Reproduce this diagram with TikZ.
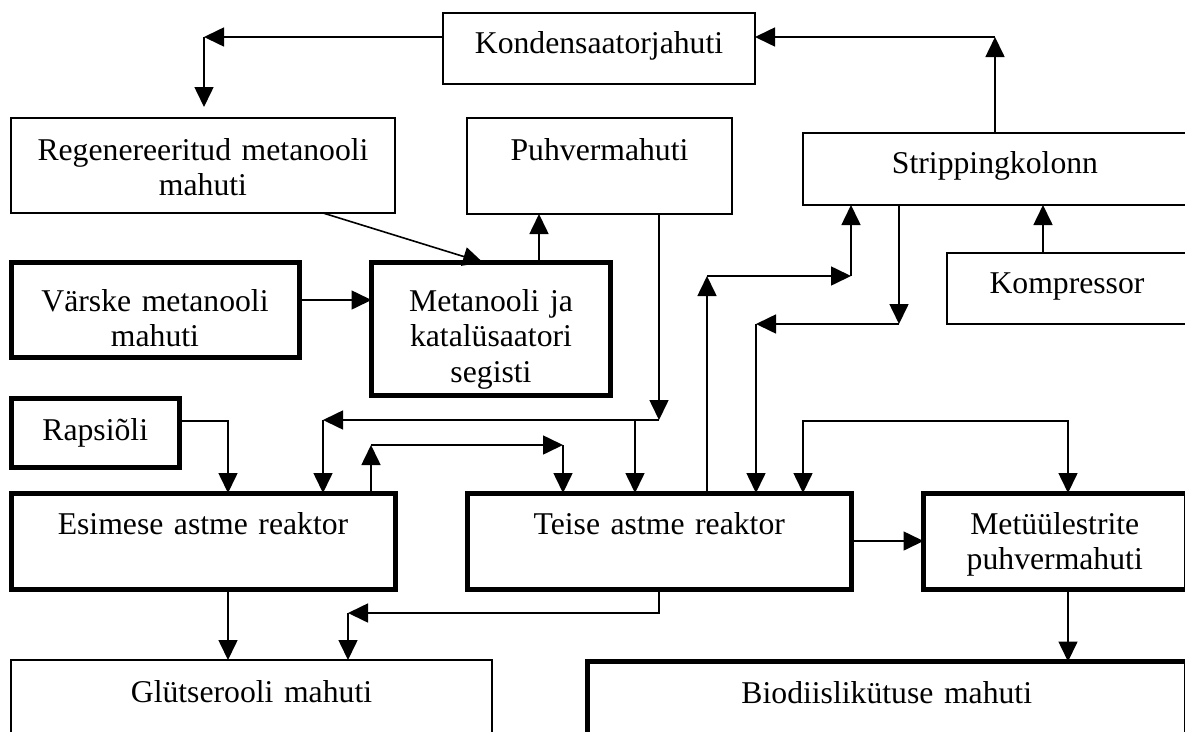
\documentclass[tikz,border=0pt]{standalone}
\usepackage{fontspec}
\setmainfont{Liberation Serif}
\usetikzlibrary{arrows.meta}

\begin{document}
\begin{tikzpicture}[x=1pt,y=-1pt,
    tank/.style={draw,line width=1.6pt,inner sep=0pt,outer sep=0pt,align=center,
      font=\fontsize{31.7}{35.5}\selectfont},
    bold tank/.style={tank,line width=5pt},
    arr/.style={-{Triangle[length=20pt,width=19pt]},line width=1.6pt},
    both/.style={{Triangle[length=20pt,width=19pt]}-{Triangle[length=20pt,width=19pt]},line width=1.6pt}]
        \useasboundingbox (0,0) rectangle (1185,731);
        \clip (0,0) rectangle (1185,731);
        \node[tank,minimum width=312pt,text width=300pt,text height=40pt,text depth=31pt](kond) at (599,48.5) {Kondensaatorjahuti};
        \node[tank,minimum width=384pt,text width=370pt,text height=42pt,text depth=53pt](regen) at (203,165.5) {Regenereeritud metanooli\\mahuti};
        \node[tank,minimum width=265pt,text width=250pt,text height=42pt,text depth=54pt](puhv) at (599.5,166) {Puhvermahuti};
        \node[tank,minimum width=384pt,text width=370pt,text height=40pt,text depth=32pt](strip) at (995,169) {Strippingkolonn};
        \node[tank,minimum width=240pt,text width=225pt,text height=40pt,text depth=31pt](komp) at (1067,288.5) {Kompressor};
        \node[bold tank,minimum width=288pt,text width=275pt,text height=48.5pt,text depth=46.5pt](varske) at (155,310) {Värske metanooli\\mahuti};
        \node[bold tank,minimum width=239pt,text width=225pt,text height=48.5pt,text depth=84.5pt](segisti) at (491,329) {Metanooli ja\\katalüsaatori\\segisti};
        \node[bold tank,minimum width=168.5pt,text width=155pt,text height=41.5pt,text depth=27.5pt](rapsi) at (95.25,433) {Rapsiõli};
        \node[bold tank,minimum width=384pt,text width=370pt,text height=41pt,text depth=55pt](esim) at (203,541) {Esimese astme reaktor};
        \node[bold tank,minimum width=383.5pt,text width=370pt,text height=41pt,text depth=55pt](teise) at (659.25,541) {Teise astme reaktor};
        \node[bold tank,minimum width=262.5pt,text width=250pt,text height=41pt,text depth=55pt](metu) at (1054.75,541) {Metüülestrite\\puhvermahuti};
        \node[tank,minimum width=481pt,text width=460pt,text height=42pt,text depth=68pt](glyts) at (251.5,715) {Glütserooli mahuti};
        \node[bold tank,minimum width=598.5pt,text width=580pt,text height=41.5pt,text depth=67pt](bio) at (886.75,715.75) {Biodiislikütuse mahuti};

        \coordinate (c1) at (204,37);
        \coordinate (c2) at (995,37);
        \coordinate (d1) at (539,240);
        \coordinate (v1) at (299,300);
        \coordinate (p1) at (659,420);
        \coordinate (p2) at (323,420);
        \coordinate (p3) at (635,420);
        \coordinate (r1) at (228,421);
        \coordinate (e1) at (371,445);
        \coordinate (e2) at (563,445);
        \coordinate (t1) at (707,276);
        \coordinate (t2) at (851,276);
        \coordinate (s1) at (899,324);
        \coordinate (s2) at (756,324);
        \coordinate (k1) at (1043,229);
        \coordinate (m1) at (803,421);
        \coordinate (m2) at (1068,421);
        \coordinate (g1) at (659,613);
        \coordinate (g2) at (348,613);

        \draw[arr] (kond.west |- c1) -- (c1);
        \draw[arr,shorten >=11pt] (c1) -- (c1 |- regen.north);
        \draw[arr] (c2 |- strip.north) -- (c2);
        \draw[arr] (c2) -- (c2 -| kond.east);
        \draw[arr] ([xshift=120pt]regen.south) -- ([xshift=-8pt]segisti.north);
        \draw[arr] (d1 |- segisti.north) -- (d1 |- puhv.south);
        \draw[arr] (v1 -| varske.east) -- (v1 -| segisti.west);
        \draw[arr] (p1 |- puhv.south) -- (p1);
        \draw[arr] (p1) -- (p2);
        \draw[arr] (p2) -- (p2 |- esim.north);
        \draw[arr] (p3) -- (p3 |- teise.north);
        \draw[arr] (rapsi.east |- r1) -- (r1) -- (r1 |- esim.north);
        \draw[arr] (e1 |- esim.north) -- (e1);
        \draw[arr] (e1) -- (e2);
        \draw[arr] (e2) -- (e2 |- teise.north);
        \draw[arr] (t1 |- teise.north) -- (t1);
        \draw[arr] (t1) -- (t2);
        \draw[arr] (t2) -- (t2 |- strip.south);
        \draw[arr] (s1 |- strip.south) -- (s1);
        \draw[arr] (s1) -- (s2);
        \draw[arr] (s2) -- (s2 |- teise.north);
        \draw[arr] (k1 |- komp.north) -- (k1 |- strip.south);
        \draw[both] (m1 |- teise.north) -- (m1) -- (m2) -- (m2 |- metu.north);
        \draw[arr] (teise.east) -- (metu.west);
        \draw[arr] (g1 |- teise.south) -- (g1) -- (g2);
        \draw[arr] (g2) -- (g2 |- glyts.north);
        \draw[arr] (r1 |- esim.south) -- (r1 |- glyts.north);
        \draw[arr] (m2 |- metu.south) -- (m2 |- bio.north);
\end{tikzpicture}
\end{document}
